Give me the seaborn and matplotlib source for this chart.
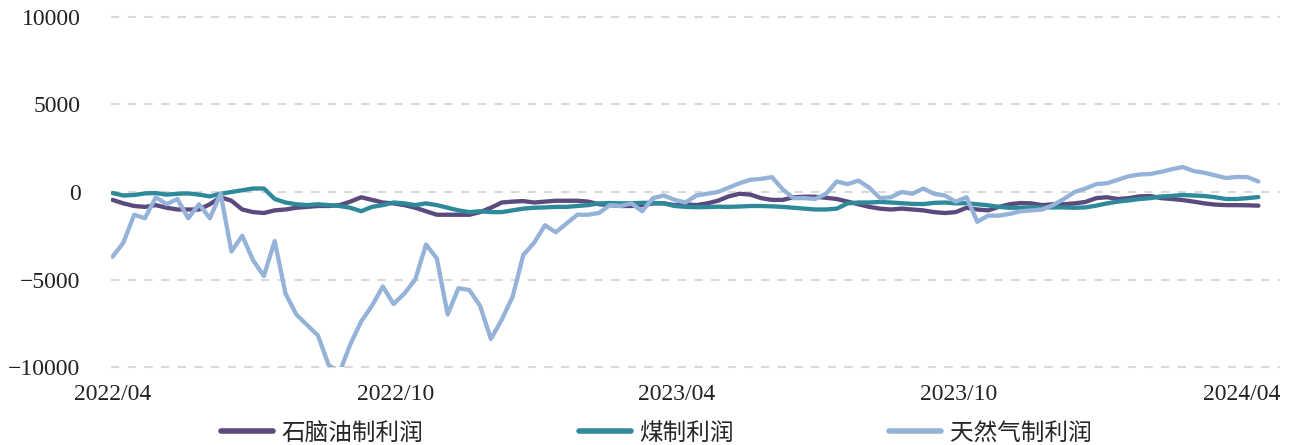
import numpy as np
import pandas as pd
import matplotlib
matplotlib.use('Agg')
import matplotlib.pyplot as plt
import seaborn as sns

# weekly samples starting 2022-04-01
start_date = "2022-04-01"
n_weeks = 107

naphtha = [
    -450, -650, -800, -850, -750, -900, -1000, -1000, -1000, -700,
    -300, -500, -1000, -1150, -1200, -1050, -1000, -900, -850, -800,
    -800, -750, -550, -300, -450, -600, -650, -750, -900, -1100,
    -1300, -1300, -1300, -1300, -1150, -900, -600, -550, -520, -600,
    -550, -500, -500, -500, -550, -700, -750, -800, -800, -750,
    -650, -650, -750, -700, -750, -650, -500, -250, -100, -150,
    -350, -450, -450, -300, -270, -270, -330, -400, -550, -700,
    -850, -950, -1000, -950, -1000, -1050, -1150, -1200, -1150, -900,
    -1000, -1050, -850, -700, -630, -650, -750, -700, -700, -650,
    -570, -350, -300, -400, -350, -250, -230, -350, -400, -460,
    -550, -650, -720, -750, -750, -760, -780,
]

coal = [
    -60, -200, -170, -80, -60, -150, -100, -80, -150, -250,
    -100, 0, 100, 200, 200, -400, -600, -700, -750, -700,
    -750, -800, -900, -1100, -850, -750, -600, -650, -750, -650,
    -750, -900, -1050, -1150, -1100, -1150, -1150, -1050, -950, -900,
    -880, -850, -850, -800, -750, -650, -630, -650, -640, -620,
    -620, -650, -800, -850, -870, -860, -840, -850, -830, -800,
    -800, -820, -850, -900, -950, -1000, -1000, -950, -650, -600,
    -600, -570, -600, -640, -680, -690, -620, -600, -650, -640,
    -700, -760, -850, -900, -900, -880, -880, -880, -880, -900,
    -880, -780, -650, -550, -480, -400, -350, -260, -220, -170,
    -200, -230, -300, -400, -400, -350, -290,
]

natgas = [
    -3700, -2900, -1300, -1500, -300, -700, -400, -1500, -700, -1500,
    -100, -3400, -2500, -3900, -4800, -2800, -5800, -7000, -7600, -8200,
    -9900, -10300, -8700, -7400, -6500, -5400, -6400, -5800, -5000, -3000,
    -3800, -7000, -5500, -5600, -6500, -8400, -7300, -6000, -3600, -2900,
    -1900, -2300, -1800, -1300, -1300, -1200, -750, -800, -650, -1100,
    -350, -200, -450, -600, -200, -100, 0, 250, 500, 700,
    750, 850, 150, -350, -350, -400, -100, 600, 450, 650,
    250, -350, -300, 0, -100, 200, -100, -200, -550, -300,
    -1700, -1350, -1350, -1250, -1100, -1050, -1000, -750, -400, 0,
    200, 450, 500, 700, 900, 1000, 1030, 1150, 1300, 1430,
    1200, 1100, 950, 800, 860, 850, 600,
]

series_names = ["石脑油制利润", "煤制利润", "天然气制利润"]
colors = ["#5b4a7e", "#2e8a9b", "#95b3d8"]
y_ticks = [-10000, -5000, 0, 5000, 10000]
x_tick_dates = ["2022-04-01", "2022-10-01", "2023-04-01", "2023-10-01", "2024-04-01"]
x_tick_labels = ["2022/04", "2022/10", "2023/04", "2023/10", "2024/04"]

dates = pd.date_range(start_date, periods=n_weeks, freq="7D")
df = pd.concat([
    pd.DataFrame({"date": dates, "value": vals, "series": name})
    for name, vals in zip(series_names, [naphtha, coal, natgas])
])

sns.set_theme(style="white")
plt.rcParams['font.family'] = ['Noto Sans CJK SC', 'DejaVu Sans']

fig = plt.figure(figsize=(12.97, 4.45), dpi=100)
ax = fig.add_axes([111 / 1297, 1 - 367 / 445, (1280 - 111) / 1297, (367 - 17) / 445])

sns.lineplot(data=df, x="date", y="value", hue="series", hue_order=series_names,
             palette=colors, linewidth=3.1, ax=ax, legend=False)

ax.set_ylim(-10000, 10000)
ax.set_xlim(pd.Timestamp("2022-04-01") - pd.Timedelta(days=1), pd.Timestamp("2024-04-26"))
ax.set_yticks(y_ticks)
ax.set_yticklabels([f"{v}".replace("-", "\u2212") for v in y_ticks],
                   family="Liberation Serif", fontsize=17)
ax.set_xticks(pd.to_datetime(x_tick_dates))
ax.set_xticklabels(x_tick_labels, family="Liberation Serif", fontsize=17)
ax.tick_params(axis="y", length=0, pad=22, colors="#222222")
ax.tick_params(axis="x", length=0, pad=12, colors="#222222")
ax.set_xlabel("")
ax.set_ylabel("")
for s in ax.spines.values():
    s.set_visible(False)
for v in y_ticks:
    ax.axhline(v, color="#d9d9d9", linewidth=1.5, linestyle=(0, (4, 4)), zorder=0,
               clip_on=False)

handles = [plt.Line2D([], [], color=c, linewidth=4, solid_capstyle="round") for c in colors]
fig.legend(handles, series_names, loc="center", ncol=3, frameon=False,
           bbox_to_anchor=(0.506, 1 - 433 / 445),
           handlelength=2.2, handletextpad=0.35, columnspacing=6.6,
           prop={"family": ["Noto Sans CJK SC"], "size": 17})

fig.savefig("out.png", dpi=100)
